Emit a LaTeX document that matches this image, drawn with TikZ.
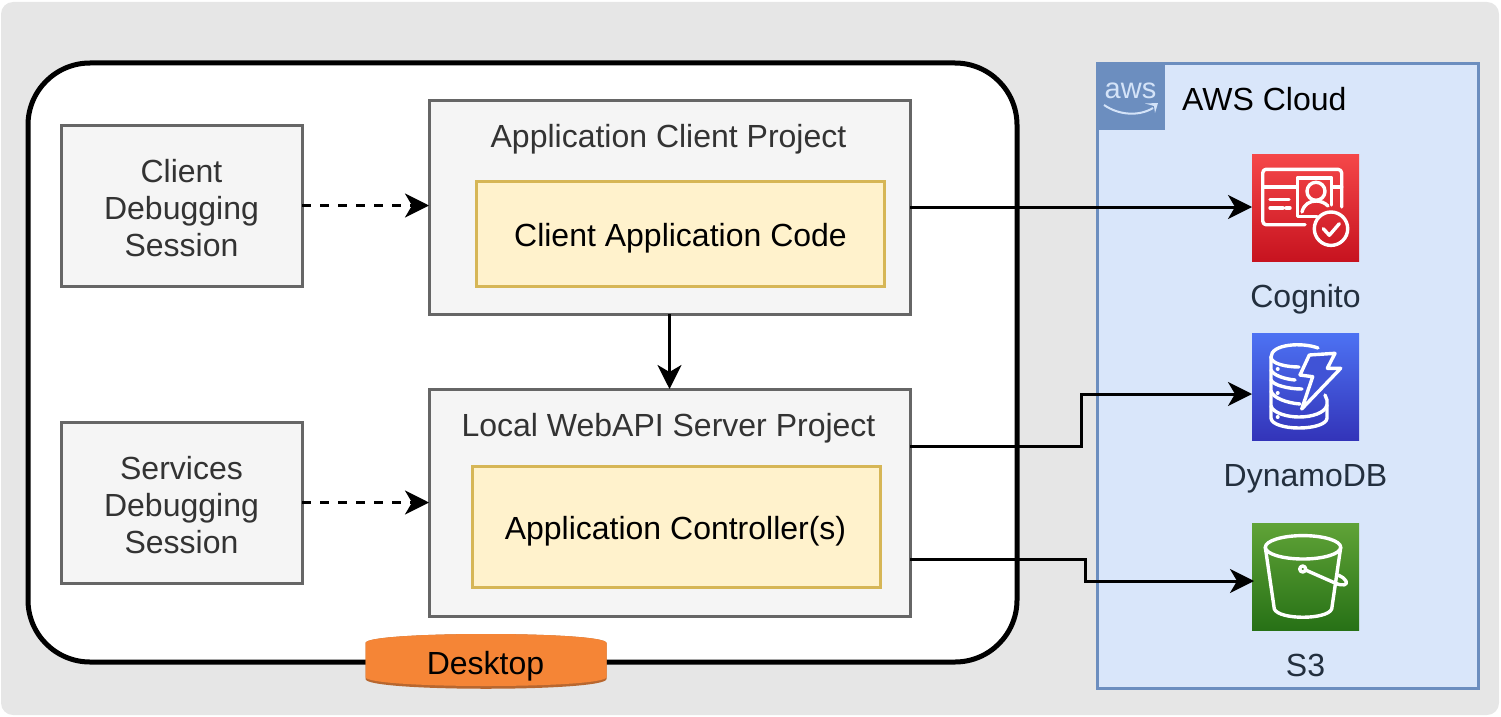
\documentclass[tikz,border=0pt]{standalone}
\usepackage{fontspec}
\setmainfont{Liberation Sans}
\usetikzlibrary{arrows.meta}
\definecolor{backgray}{HTML}{E6E6E6}
\definecolor{boxgray}{HTML}{F5F5F5}
\definecolor{boxline}{HTML}{666666}
\definecolor{boxtext}{HTML}{333333}
\definecolor{codefill}{HTML}{FFF2CC}
\definecolor{codeline}{HTML}{D6B656}
\definecolor{cloudfill}{HTML}{D9E6FA}
\definecolor{cloudline}{HTML}{6C8EBF}
\definecolor{awstext}{HTML}{232F3E}
\definecolor{logotext}{HTML}{D4E3F8}
\definecolor{desktopfill}{HTML}{F58536}
\definecolor{desktopdark}{HTML}{B8672F}
\definecolor{cogtop}{HTML}{F54749}
\definecolor{cogbot}{HTML}{C7131F}
\definecolor{dyntop}{HTML}{4D72F3}
\definecolor{dynbot}{HTML}{3334B9}
\definecolor{dynmid}{HTML}{4053D6}
\definecolor{bucktop}{HTML}{60A337}
\definecolor{buckbot}{HTML}{277116}
\newcommand{\bigfont}{\fontsize{32}{37}\selectfont}

\begin{document}
\begin{tikzpicture}[
  x=1pt, y=-1pt,
  lbl/.style={font=\bigfont, align=center, inner sep=0pt},
  greybox/.style={draw=boxline, fill=boxgray, line width=3pt, inner sep=0pt, outer sep=0pt},
  codebox/.style={draw=codeline, fill=codefill, line width=3pt, inner sep=0pt, outer sep=0pt},
  iconbox/.style={minimum width=107pt, minimum height=107pt, inner sep=0pt, outer sep=0pt},
  glyph/.style={draw=white, line width=3.4pt, line cap=round, line join=round},
  link/.style={-{Stealth[length=24pt,width=24pt,inset=7pt]}, line width=3pt, black},
  dashlink/.style={link, dash pattern=on 9pt off 9pt}
]
  \useasboundingbox (0,0) rectangle (1501,717);

  % backdrop
  \fill[backgray, rounded corners=12pt] (1,2) rectangle (1499,715);

  % desktop frame
  \draw[line width=5pt, fill=white, rounded corners=62pt] (28,63) rectangle (1017,662);

  % debugging sessions
  \node[greybox, minimum width=241pt, minimum height=161pt] (clientsession) at (181.5,205.5) {};
  \node[lbl, text=boxtext] (clientsessionlabel) at (181.5,208.5) {Client\\Debugging\\Session};
  \node[greybox, minimum width=241pt, minimum height=161pt] (servicesession) at (181.5,502.5) {};
  \node[lbl, text=boxtext] (servicesessionlabel) at (181.5,505.5) {Services\\Debugging\\Session};

  % projects
  \node[greybox, minimum width=481pt, minimum height=214pt] (clientproject) at (669.5,207) {};
  \node[lbl, text=boxtext] (clienttitle) at (668.5,139) {Application Client Project};
  \node[codebox, minimum width=408pt, minimum height=105pt] (clientcode) at (680,233.5) {};
  \node[lbl] (clientcodelabel) at (680.5,238) {Client Application Code};
  \node[greybox, minimum width=481pt, minimum height=227pt] (serverproject) at (669.5,502.5) {};
  \node[lbl, text=boxtext] (servertitle) at (668.5,428) {Local WebAPI Server Project};
  \node[codebox, minimum width=408pt, minimum height=121pt] (servercode) at (676,526.5) {};
  \node[lbl] (servercodelabel) at (675.5,531.5) {Application Controller(s)};

  % cloud group
  \node[draw=cloudline, fill=cloudfill, line width=3pt, minimum width=381pt, minimum height=624pt,
        inner sep=0pt] (cloud) at (1287.5,376) {};
  \node[fill=cloudline, minimum width=68pt, minimum height=66pt, inner sep=0pt] (awslogo) at (1131,97) {};
  \node[font=\fontsize{29}{29}\selectfont, text=logotext, inner sep=0pt] (awsword) at (1130.5,91) {aws};
  \draw[logotext, line width=2pt] (1104,105) .. controls (1120,116) and (1140,116) .. (1153,108);
  \fill[logotext] (1145,103.5) -- (1158,103) -- (1155,113) -- (1154,106) -- cycle;
  \node[lbl, anchor=west] (cloudtitle) at (1182,99) {AWS Cloud};

  % cognito
  \node[iconbox, top color=cogtop, bottom color=cogbot] (cognito) at (1305.5,207.5) {};
  \begin{scope}[shift={(1252,154)}]
    \draw[glyph] (53,70.7) -- (14,70.7) .. controls (12,70.7) and (10.7,69) .. (10.7,67) -- (10.7,19)
      .. controls (10.7,17) and (12,15.3) .. (14,15.3) -- (86,15.3) .. controls (88,15.3) and (89.7,17) .. (89.7,19) -- (89.7,53);
    \draw[glyph] (10.7,33) -- (45.3,33) (79.7,33) -- (89.7,33);
    \draw[glyph] (65,62.3) -- (45.3,62.3) -- (45.3,24) -- (79.7,24) -- (79.7,51);
    \draw[glyph] (64,37.3) circle (9);
    \draw[glyph] (50,58) .. controls (52,50) and (58,47) .. (64,47) .. controls (69,47) and (73,49) .. (76,52);
    \draw[glyph] (18,45.3) -- (37,45.3) (18,54) -- (31,54) (34,54) -- (38,54);
    \draw[glyph] (79,74.7) circle (16.7);
    \draw[glyph] (71.3,74.7) -- (77.3,81.3) -- (87.3,69.7);
  \end{scope}
  \node[lbl, text=awstext] (cognitolabel) at (1305.5,299) {Cognito};

  % dynamodb
  \node[iconbox, top color=dyntop, bottom color=dynbot] (dynamo) at (1305.5,386.5) {};
  \begin{scope}[shift={(1252,333)}]
    \draw[glyph] (66,15) .. controls (50,9) and (19,11) .. (19,24) .. controls (19,31) and (35,34) .. (47,34);
    \draw[glyph] (19,24) -- (19,85) .. controls (19,91) and (32,95) .. (47,95) .. controls (62,95) and (75,91) .. (75,85) -- (75,67) -- (73,62);
    \draw[glyph] (19,37) .. controls (21,42) and (32,46) .. (43,47);
    \draw[glyph] (19,47) .. controls (21,52) and (36,56) .. (50,56);
    \draw[glyph] (19,58) .. controls (21,65) and (35,70) .. (48,71);
    \draw[glyph] (19,73) .. controls (21,80) and (35,84) .. (47,84) .. controls (60,84) and (73,80) .. (75,72);
    \fill[white] (25.7,36) circle (2) (25.7,60) circle (2) (25.7,84) circle (2);
    \draw[glyph, fill=dynmid] (57.3,22) -- (83,20.3) -- (75.3,35.3) -- (88.7,35.3) -- (49.7,76) -- (60.7,43.7) -- (48,42) -- cycle;
  \end{scope}
  \node[lbl, text=awstext] (dynamolabel) at (1305.5,479) {DynamoDB};

  % s3
  \node[iconbox, top color=bucktop, bottom color=buckbot] (bucket) at (1305.5,576.5) {};
  \begin{scope}[shift={(1252,523)}]
    \draw[glyph] (51,24.3) ellipse (37.7 and 11.7);
    \draw[glyph] (13.3,24.3) -- (22.3,86) .. controls (27,97) and (75,97) .. (79.7,86) -- (88.7,24.3);
    \draw[glyph] (50.7,46) circle (3);
    \draw[glyph] (53.5,47) -- (83,60) .. controls (91,63.5) and (96,62) .. (94,58) .. controls (93,55.5) and (90,54) .. (86,52);
  \end{scope}
  \node[lbl, text=awstext] (bucketlabel) at (1305.5,665) {S3};

  % desktop tag
  \fill[desktopdark] (365.5,643) .. controls (365.5,631) and (606.5,631) .. (606.5,643) -- (606.5,679)
    .. controls (606.5,692) and (365.5,692) .. (365.5,679) -- cycle;
  \fill[desktopfill] (365.5,643) .. controls (365.5,631) and (606.5,631) .. (606.5,643) -- (606.5,677)
    .. controls (606.5,689) and (365.5,689) .. (365.5,677) -- cycle;
  \node[lbl] (desktop) at (485.5,666) {Desktop};

  % connectors
  \draw[dashlink] (clientsession.east) -- (clientproject.west |- clientsession.east);
  \draw[dashlink] (servicesession.east) -- (serverproject.west);
  \draw[link] (clientproject.east) -- (cognito.west |- clientproject.east);
  \draw[link] (clientproject.south) -- (serverproject.north);
  \draw[link] ([yshift=56.5pt]serverproject.east) -- ++(171,0) |- ([yshift=-7.5pt]dynamo.west);
  \draw[link] ([yshift=-56.5pt]serverproject.east) -- ++(175,0) |- ([yshift=-4.5pt,xshift=2pt]bucket.west);
\end{tikzpicture}
\end{document}
